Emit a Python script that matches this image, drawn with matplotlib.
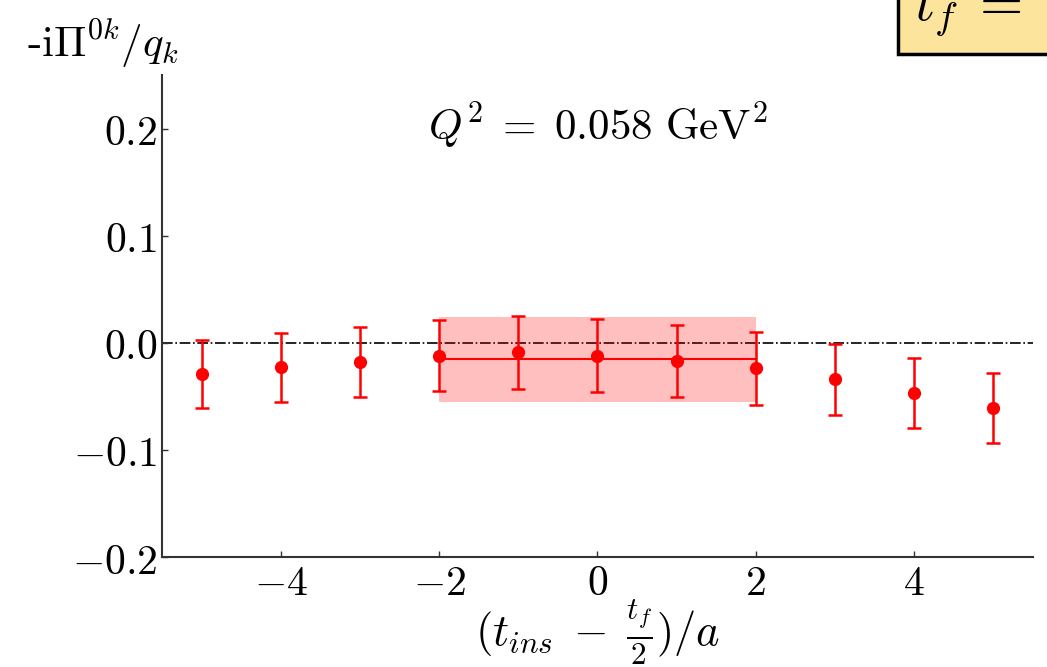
import numpy as np
import matplotlib
matplotlib.use('Agg')
import matplotlib.pyplot as plt
from matplotlib.ticker import FuncFormatter

plt.rcParams['mathtext.fontset'] = 'cm'
plt.rcParams['font.family'] = 'serif'
plt.rcParams['font.serif'] = ['DejaVu Serif']

# data
t_ins = [-5, -4, -3, -2, -1, 0, 1, 2, 3, 4, 5]
pi_vals = [-0.029, -0.023, -0.018, -0.012, -0.009, -0.012, -0.017, -0.024, -0.034, -0.047, -0.061]
pi_errs = [0.032, 0.032, 0.033, 0.033, 0.034, 0.034, 0.034, 0.034, 0.033, 0.033, 0.033]
fit_range = [-2, 2]
fit_val = -0.0155
fit_err = 0.0395

fig = plt.figure(figsize=(10.47, 6.67), dpi=100)
ax = fig.add_axes([0.1547, 0.1649, 0.8319, 0.7227])

ax.axhline(0, color='k', ls='-.', lw=1.2, zorder=1)
ax.fill_between(fit_range, fit_val - fit_err, fit_val + fit_err,
                color='#ff0000', alpha=0.25, lw=0, zorder=2)
ax.plot(fit_range, [fit_val, fit_val], color='#ff0000', lw=1.5, zorder=3)
ax.errorbar(t_ins, pi_vals, yerr=pi_errs, fmt='o', color='#ff0000',
            ms=8.5, elinewidth=1.8, capsize=5, capthick=1.8, zorder=4)

ax.set_xlim(-5.5, 5.5)
ax.set_ylim(-0.2, 0.25)
ax.set_xticks([-4, -2, 0, 2, 4])
ax.set_yticks([-0.2, -0.1, 0.0, 0.1, 0.2])
ax.xaxis.set_major_formatter(FuncFormatter(lambda v, p: r'$%d$' % v))
ax.yaxis.set_major_formatter(FuncFormatter(lambda v, p: r'$%.1f$' % v))
ax.tick_params(direction='in', length=4, width=1, labelsize=30, color='#333333')
for s in ['top', 'right']:
    ax.spines[s].set_visible(False)
for s in ['left', 'bottom']:
    ax.spines[s].set_color('#333333')
    ax.spines[s].set_linewidth(1.5)

ax.text(0.5, 0.895, r'$Q^2\;=\;0.058\ \mathrm{GeV}^2$', transform=ax.transAxes,
        ha='center', va='center', fontsize=31)
fig.text(0.098, 0.935, r'$\text{-i}\Pi^{0k}/q_k$', ha='center', va='center', fontsize=31)
ax.set_xlabel(r'$(t_{ins}\;-\;\frac{t_f}{2})/a$', fontsize=32, labelpad=-4)

fig.text(0.873, 0.985, r'$t_f\;=\;12a$', ha='left', va='center', fontsize=40,
         bbox=dict(boxstyle='square,pad=0.28', fc='#fde49c', ec='k', lw=2.5))

fig.savefig('out.png', dpi=100)
